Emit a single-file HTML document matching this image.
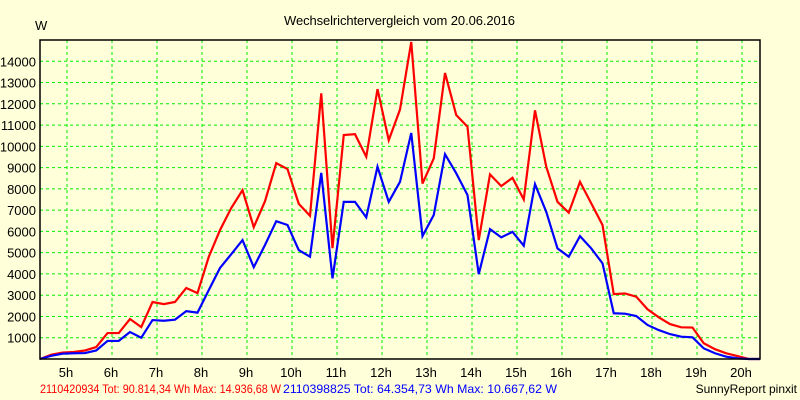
<!DOCTYPE html>
<html><head><meta charset="utf-8"><style>
html,body{margin:0;padding:0;background:#ffffd9;}
svg{display:block;font-family:"Liberation Sans",Arial,sans-serif;}
</style></head><body>
<svg id="chart" width="800" height="400" viewBox="0 0 800 400">
<rect x="0" y="0" width="800" height="400" fill="#ffffd9"/>
<text x="284" y="25" font-size="13" textLength="231" fill="#000">Wechselrichtervergleich vom 20.06.2016</text>
<text x="35" y="30" font-size="13" fill="#000">W</text>
<g id="grid"></g>
<g id="series"></g>
<rect x="40" y="40" width="720" height="319" fill="none" stroke="#000" stroke-width="1.5"/>
<g id="labels"></g>
<text x="40" y="393" font-size="12"><tspan fill="#ff0000" textLength="241" lengthAdjust="spacingAndGlyphs">2110420934 Tot: 90.814,34 Wh Max: 14.936,68 W</tspan><tspan x="283" fill="#0000ff" textLength="274" lengthAdjust="spacingAndGlyphs">2110398825 Tot: 64.354,73 Wh Max: 10.667,62 W</tspan></text>
<text x="797" y="393" font-size="12" text-anchor="end" fill="#000">SunnyReport pinxit</text>
</svg>
<script>
const startHour = 4.4;
const stepHours = 0.25;
const redValues = [0,200,300,330,400,560,1220,1220,1880,1500,2680,2580,2680,3340,3100,4800,6060,7100,7940,6200,7420,9210,8930,7300,6730,12490,5210,10530,10570,9510,12690,10290,11730,14910,8250,9430,13450,11470,10920,5590,8680,8130,8520,7500,11690,9040,7390,6880,8330,7320,6300,3050,3080,2930,2340,1960,1640,1490,1480,740,460,270,140,0,0];
const blueValues = [0,150,250,270,280,400,850,850,1270,1000,1830,1800,1850,2250,2180,3240,4280,4930,5590,4320,5360,6480,6300,5120,4810,8750,3790,7390,7390,6660,9040,7390,8330,10630,5780,6770,9630,8730,7710,3990,6110,5720,5980,5330,8220,6920,5200,4810,5780,5200,4500,2150,2130,2020,1600,1360,1170,1050,1020,500,270,110,30,0,0];
const xTickHours = [5,6,7,8,9,10,11,12,13,14,15,16,17,18,19,20];
const yTickValues = [1000,2000,3000,4000,5000,6000,7000,8000,9000,10000,11000,12000,13000,14000];

const NS = "http://www.w3.org/2000/svg";
const X0 = 40, X1 = 760, Y0 = 359, Y1 = 40;
const hMin = 4.4, hMax = 20.4, vMax = 15000;
function xScale(h){ return X0 + (h - hMin) / (hMax - hMin) * (X1 - X0); }
function yScale(v){ return Y0 - v / vMax * (Y0 - Y1); }
function mk(tag, attrs){ const e = document.createElementNS(NS, tag); for (const k in attrs) e.setAttribute(k, attrs[k]); return e; }

const grid = document.getElementById('grid');
const labels = document.getElementById('labels');
yTickValues.forEach(v => {
  const y = yScale(v);
  const l = mk('line', {x1: X0, x2: X1, y1: y, y2: y, stroke: '#00ee00', 'stroke-width': 1, 'stroke-dasharray': '3,3'});
  
  
  grid.appendChild(l);
  const t = mk('text', {x: 36, y: y + 5, 'font-size': 13, 'text-anchor': 'end', fill: '#000'});
  t.textContent = v;
  
  
  labels.appendChild(t);
});
xTickHours.forEach(h => {
  const x = xScale(h);
  const l = mk('line', {x1: x, x2: x, y1: Y1, y2: Y0, stroke: '#00ee00', 'stroke-width': 1, 'stroke-dasharray': '3,3'});
  
  
  grid.appendChild(l);
  const t = mk('text', {x: x - 1, y: 377, 'font-size': 13, 'text-anchor': 'middle', fill: '#000'});
  t.textContent = h + 'h';
  
  
  labels.appendChild(t);
});
const series = document.getElementById('series');
function drawLine(vals, color, name){
  const pts = vals.map((v, i) => xScale(startHour + i * stepHours).toFixed(2) + ',' + yScale(v).toFixed(2)).join(' ');
  const p = mk('polyline', {points: pts, fill: 'none', stroke: color, 'stroke-width': 2.2, 'stroke-linejoin': 'miter'});
  
  
  series.appendChild(p);
}
drawLine(redValues, '#ff0000', 'series-2110420934');
drawLine(blueValues, '#0000ff', 'series-2110398825');
</script>
</body></html>
